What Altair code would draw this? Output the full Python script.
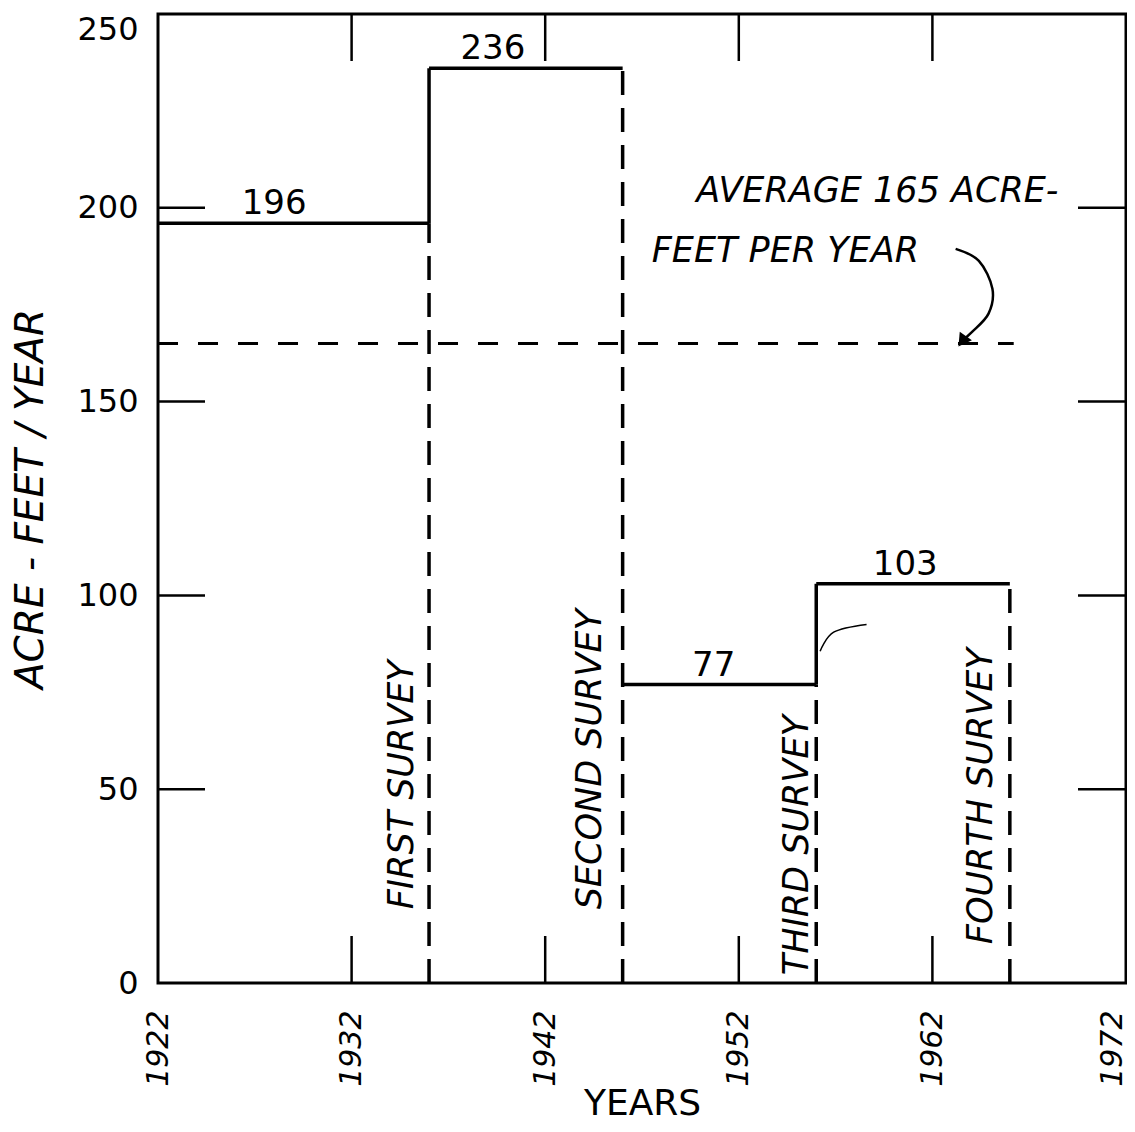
import altair as alt
import pandas as pd

# ---- data ----
period_start = [1922, 1936, 1946, 1956]
period_end = [1936, 1946, 1956, 1966]
rate = [196, 236, 77, 103]
rate_label_year = [1928.0, 1939.3, 1950.7, 1960.6]

surveys = ["FIRST SURVEY", "SECOND SURVEY", "THIRD SURVEY", "FOURTH SURVEY"]
survey_year = [1936, 1946, 1956, 1966]
survey_label_year = [1934.6, 1944.3, 1955.0, 1964.5]
survey_label_base = [19, 19, 2, 10]

average = 165
average_start = 1922
average_end = 1966.2
average_text = ["AVERAGE 165 ACRE-", "FEET PER YEAR"]
average_text_year = [1949.8, 1947.5]
average_text_value = [201.5, 186.0]

arrow_year = [1963.2, 1964.4, 1965.1, 1964.9, 1964.05, 1963.5]
arrow_value = [189.4, 186.3, 179.1, 172.7, 168.0, 165.6]
arrow_tip = [1963.6, 166.0]

hook_year = [1956.2, 1956.9, 1958.6]
hook_value = [85.6, 90.5, 92.5]

x_ticks = [1922, 1932, 1942, 1952, 1962, 1972]
y_ticks = [0, 50, 100, 150, 200, 250]
inner_x_ticks = [1932, 1942, 1952, 1962]
inner_y_ticks = [50, 100, 150, 200]

W, H = 968, 969
FONT = "DejaVu Sans"

# ---- tables ----
periods = pd.DataFrame({"start": period_start, "end": period_end, "rate": rate,
                        "label_year": rate_label_year, "label": [str(v) for v in rate]})
drops = pd.DataFrame({"year": survey_year, "top": rate, "bottom": [0] * 4})
rise_rows = [{"year": period_end[i], "lo": rate[i], "hi": rate[i + 1]}
             for i in range(len(rate) - 1) if rate[i + 1] > rate[i]]
rises = pd.DataFrame(rise_rows)
survey_df = pd.DataFrame({"name": surveys, "x": survey_label_year, "y": survey_label_base})
avg_df = pd.DataFrame({"x": [average_start], "x2": [average_end], "y": [average]})
avg_txt = pd.DataFrame({"t": average_text, "x": average_text_year, "y": average_text_value})
arrow_df = pd.DataFrame({"x": arrow_year, "y": arrow_value, "o": list(range(len(arrow_year)))})
tip_df = pd.DataFrame({"x": [arrow_tip[0]], "y": [arrow_tip[1]]})
hook_df = pd.DataFrame({"x": hook_year, "y": hook_value, "o": list(range(len(hook_year)))})
ytick_df = pd.DataFrame({"v": inner_y_ticks})
xtick_df = pd.DataFrame({"v": inner_x_ticks})

xs = alt.Scale(domain=[1922, 1972], nice=False, zero=False)
ys = alt.Scale(domain=[0, 250], nice=False, zero=False)

x_axis = alt.Axis(values=x_ticks, format="d", labelAngle=270, labelFlush=False,
                  labelFontStyle="italic", labelFontSize=30, labelPadding=27,
                  labelOffset={"condition": {"test": "datum.value == 1972", "value": -14},
                               "value": 0},
                  title="YEARS", titleFontSize=36, titlePadding=0)
y_axis = alt.Axis(values=y_ticks, labelPadding=20, labelFontSize=32,
                  labelBaseline={"condition": {"test": "datum.value == 250", "value": "top"},
                                 "value": "middle"},
                  title="ACRE - FEET / YEAR", titleFontStyle="italic", titleFontSize=39,
                  titlePadding=26)


def X(field):
    return alt.X(field, type="quantitative", scale=xs, axis=x_axis)


def Y(field):
    return alt.Y(field, type="quantitative", scale=ys, axis=y_axis)


# horizontal step segments
steps = alt.Chart(periods).mark_rule(color="black", strokeWidth=3.5).encode(
    x=X("start"), x2="end:Q", y=Y("rate"))

rise_layer = alt.Chart(rises).mark_rule(color="black", strokeWidth=3.5).encode(
    x=X("year"), y=Y("lo"), y2="hi:Q")

drop_layer = alt.Chart(drops).mark_rule(color="black", strokeWidth=3.5,
                                        strokeDash=[24, 13]).encode(
    x=X("year"), y=Y("bottom"), y2="top:Q")

avg_layer = alt.Chart(avg_df).mark_rule(color="black", strokeWidth=3,
                                        strokeDash=[20, 20]).encode(
    x=X("x"), x2="x2:Q", y=Y("y"))

# inner ticks on all four sides
left_ticks = alt.Chart(ytick_df).mark_rule(color="black", strokeWidth=2.5).encode(
    y=Y("v"), x=alt.value(0), x2=alt.value(47))
right_ticks = alt.Chart(ytick_df).mark_rule(color="black", strokeWidth=2.5).encode(
    y=Y("v"), x=alt.value(W - 48), x2=alt.value(W))
top_ticks = alt.Chart(xtick_df).mark_rule(color="black", strokeWidth=2.5).encode(
    x=X("v"), y=alt.value(0), y2=alt.value(47))
bottom_ticks = alt.Chart(xtick_df).mark_rule(color="black", strokeWidth=2.5).encode(
    x=X("v"), y=alt.value(H - 47), y2=alt.value(H))

rate_text = alt.Chart(periods).mark_text(font=FONT, fontSize=34, color="black",
                                         baseline="alphabetic", dy=-9).encode(
    x=X("label_year"), y=Y("rate"), text="label:N")

survey_text = alt.Chart(survey_df).mark_text(font=FONT, fontSize=35, fontStyle="italic",
                                             color="black", angle=270, align="left",
                                             baseline="middle").encode(
    x=X("x"), y=Y("y"), text="name:N")

avg_text_layer = alt.Chart(avg_txt).mark_text(font=FONT, fontSize=35, fontStyle="italic",
                                              color="black", align="left",
                                              baseline="alphabetic").encode(
    x=X("x"), y=Y("y"), text="t:N")

arrow_layer = alt.Chart(arrow_df).mark_line(color="black", strokeWidth=2.5,
                                            interpolate="cardinal").encode(
    x=X("x"), y=Y("y"), order="o:Q")
tip_layer = alt.Chart(tip_df).mark_point(shape="triangle", angle=215, filled=True,
                                         color="black", size=220, opacity=1).encode(
    x=X("x"), y=Y("y"))
hook_layer = alt.Chart(hook_df).mark_line(color="black", strokeWidth=1.5,
                                          interpolate="cardinal").encode(
    x=X("x"), y=Y("y"), order="o:Q")

chart = alt.layer(
    steps, left_ticks, right_ticks, top_ticks, bottom_ticks,
    drop_layer, avg_layer, rise_layer,
    rate_text, survey_text, avg_text_layer, arrow_layer, tip_layer, hook_layer,
).properties(
    width=W, height=H,
    autosize=alt.AutoSizeParams(type="none"),
    padding={"left": 150, "top": 6, "right": 1, "bottom": 140},
    background="white",
).configure_view(
    stroke="black", strokeWidth=3
).configure_axis(
    labelFont=FONT, labelColor="black",
    titleFont=FONT, titleFontWeight="normal", titleColor="black",
    ticks=False, domain=False, grid=False,
)

chart.save("out.html", embed_options={"renderer": "svg", "actions": False})
